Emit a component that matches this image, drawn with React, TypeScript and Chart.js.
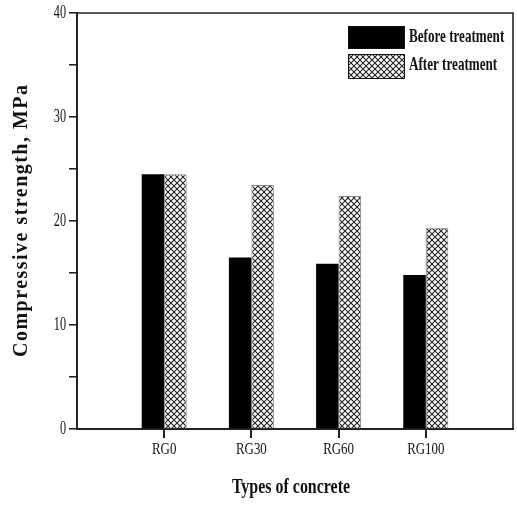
import React, { useEffect, useRef } from "react";
import { Chart, registerables } from "chart.js";

Chart.register(...registerables);

const categories = ["RG0", "RG30", "RG60", "RG100"];
const beforeTreatment = [24.5, 16.5, 15.9, 14.8];
const afterTreatment = [24.5, 23.45, 22.4, 19.35];
const seriesNames = ["Before treatment", "After treatment"];
const yTickValues = [0, 10, 20, 30, 40];
const xTitle = "Types of concrete";
const yTitle = "Compressive strength, MPa";

const FONT = "'Liberation Serif', 'Times New Roman', serif";
const AXIS = "#222";

function makeHatch(): CanvasPattern | string {
  const c = document.createElement("canvas");
  c.width = 6;
  c.height = 6;
  const g = c.getContext("2d");
  if (!g) return "#fff";
  g.fillStyle = "#fff";
  g.fillRect(0, 0, 6, 6);
  g.strokeStyle = "#222";
  g.lineWidth = 1.1;
  g.beginPath();
  g.moveTo(-1, -1);
  g.lineTo(7, 7);
  g.moveTo(-1, 7);
  g.lineTo(7, -1);
  g.stroke();
  const p = g.createPattern(c, "repeat");
  return p || "#fff";
}

function drawSqueezed(
  ctx: CanvasRenderingContext2D,
  text: string,
  x: number,
  y: number,
  font: string,
  sx: number,
  align: CanvasTextAlign
) {
  ctx.save();
  ctx.translate(x, y);
  ctx.scale(sx, 1);
  ctx.font = font;
  ctx.textAlign = align;
  ctx.textBaseline = "middle";
  ctx.fillStyle = "#111";
  ctx.fillText(text, 0, 0);
  ctx.restore();
}

const decorPlugin = {
  id: "decor",
  afterDraw(chart: any) {
    const ctx: CanvasRenderingContext2D = chart.ctx;
    const { left, right, top, bottom } = chart.chartArea;
    ctx.save();
    ctx.setLineDash([]);
    ctx.strokeStyle = AXIS;
    ctx.lineWidth = 1.6;
    ctx.beginPath();
    ctx.moveTo(left, top);
    ctx.lineTo(right, top);
    ctx.lineTo(right, bottom);
    ctx.stroke();

    const ys = chart.scales.y;
    ys.ticks.forEach((t: any, i: number) => {
      const lbl = t.label;
      if (!lbl) return;
      const py = ys.getPixelForTick(i);
      drawSqueezed(ctx, String(lbl), 66, py, `18px ${FONT}`, 0.68, "right");
    });

    const xs = chart.scales.x;
    const tickPositions: number[] = [];
    xs.ticks.forEach((t: any, i: number) => {
      const lbl = t.label;
      if (!lbl) return;
      const px = xs.getPixelForTick(i);
      tickPositions.push(px);
      drawSqueezed(ctx, String(lbl), px, 450, `17px ${FONT}`, 0.76, "center");
    });
    ctx.fillStyle = AXIS;
    tickPositions.forEach((px) => {
      ctx.fillRect(Math.round(px) - 1, Math.round(bottom), 2, 9);
    });

    drawSqueezed(ctx, xTitle, (left + right) / 2 - 4, 488, `bold 21px ${FONT}`, 0.76, "center");

    ctx.save();
    ctx.translate(22, (top + bottom) / 2);
    ctx.rotate(-Math.PI / 2);
    ctx.font = `bold 20px ${FONT}`;
    const plain = ctx.measureText(yTitle).width;
    const spacing = Math.max(0, (272 - plain) / (yTitle.length - 1));
    (ctx as any).letterSpacing = `${spacing.toFixed(2)}px`;
    ctx.textAlign = "center";
    ctx.textBaseline = "middle";
    ctx.fillStyle = "#111";
    ctx.fillText(yTitle, spacing / 2, 0);
    ctx.restore();

    const ds = chart.data.datasets;
    const boxes = [
      { y0: 26, y1: 48, ty: 37 },
      { y0: 54, y1: 78, ty: 65 },
    ];
    ds.forEach((d: any, i: number) => {
      const b = boxes[i];
      ctx.fillStyle = d.backgroundColor;
      ctx.fillRect(348, b.y0, 56, b.y1 - b.y0);
      ctx.strokeStyle = "#111";
      ctx.lineWidth = 1;
      ctx.strokeRect(348.5, b.y0 + 0.5, 56, b.y1 - b.y0);
      drawSqueezed(ctx, d.label, 409, b.ty, `bold 19px ${FONT}`, 0.69, "left");
    });
    ctx.restore();
  },
};

export default function App() {
  const ref = useRef<HTMLCanvasElement>(null);

  useEffect(() => {
    document.body.style.margin = "0";
    if (!ref.current) return;
    const hatch = makeHatch();
    const labels = ["", ...categories, ""];
    const pad = (a: number[]) => [null, ...a, null];
    const chart = new Chart(ref.current, {
      type: "bar",
      data: {
        labels,
        datasets: [
          {
            label: seriesNames[0],
            data: pad(beforeTreatment) as any,
            backgroundColor: "#000",
            borderWidth: 0,
          },
          {
            label: seriesNames[1],
            data: pad(afterTreatment) as any,
            backgroundColor: hatch as any,
            borderColor: "#888",
            borderWidth: 1,
          },
        ],
      },
      options: {
        responsive: false,
        animation: false,
        layout: { padding: { top: 13, right: 4, left: 0, bottom: 0 } },
        datasets: {
          bar: { categoryPercentage: 0.516, barPercentage: 1 },
        } as any,
        plugins: {
          legend: { display: false },
          tooltip: { enabled: false },
          title: { display: false },
        },
        scales: {
          x: {
            type: "category",
            offset: false,
            grid: {
              offset: false,
              drawOnChartArea: false,
              drawTicks: false,
              tickLength: 8,
            },
            border: { display: true, color: AXIS, width: 2 },
            ticks: { color: "rgba(0,0,0,0)", autoSkip: false, maxRotation: 0 },
            afterFit: (s: any) => {
              s.height = 76;
            },
          },
          y: {
            min: 0,
            max: 40,
            grid: {
              drawOnChartArea: false,
              drawTicks: true,
              tickLength: 8,
              lineWidth: 1.6,
              color: AXIS,
            },
            border: { display: true, color: AXIS, width: 2 },
            ticks: {
              stepSize: 5,
              color: "rgba(0,0,0,0)",
              callback: (v: any) => (yTickValues.includes(Number(v)) ? String(v) : ""),
            },
            afterFit: (s: any) => {
              s.width = 77;
            },
          },
        },
      },
      plugins: [decorPlugin],
    });
    return () => chart.destroy();
  }, []);

  return (
    <div style={{ width: 517, height: 505 }}>
      <canvas ref={ref} width={517} height={505} style={{ display: "block" }} />
    </div>
  );
}
